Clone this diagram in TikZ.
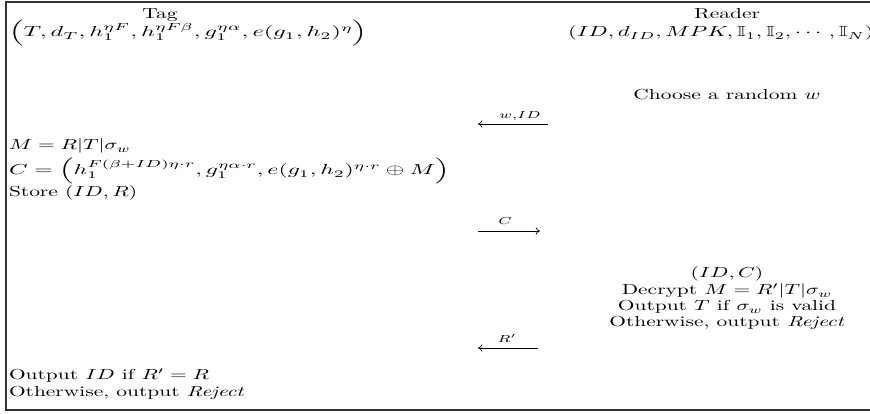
\documentclass[tikz,border=0pt]{standalone}
\usepackage{amsmath,amssymb}
\usepackage{graphicx}
\usetikzlibrary{arrows.meta}
\newcommand{\sx}[1]{\scalebox{1.48}[1]{#1}}
\newcommand{\sxm}[2]{\scalebox{#1}[1]{#2}}
\begin{document}
\begin{tikzpicture}[x=0.69pt,y=-0.69pt,
  txt/.style={inner sep=0pt,outer sep=0pt},
  lft/.style={txt,anchor=base west},
  ctr/.style={txt,anchor=base},
  msg/.style={line width=0.5pt,-{To[length=3pt,width=5pt]}},
  lbl/.style={inner sep=0pt,anchor=base}]
\useasboundingbox (0,0) rectangle (870,414);
% frame
\draw[line width=0.9pt,black!80] (880,2) -- (6,2) -- (6,410) -- (880,410);
% headers
\node[ctr] (tag) at (160,19) {\sx{Tag}};
\node[lft] (tagk) at (9,37) {\sxm{1.68}{$\Big(T, d_T, h_1^{\eta F}, h_1^{\eta F\beta}, g_1^{\eta\alpha}, e(g_1,h_2)^{\eta}\Big)$}};
\node[ctr] (rdr) at (727,19) {\sx{Reader}};
\node[lft] (rdrk) at (568,37) {\sxm{1.56}{$(ID, d_{ID}, MPK, \mathbb{I}_1, \mathbb{I}_2, \cdots, \mathbb{I}_N)$}};
% step 1
\node[ctr] (choose) at (727,100) {\sx{Choose a random $w$}};
\coordinate (a1r) at (548,124);
\coordinate (a1l) at (478,124);
\draw[msg] (a1r) -- (a1l);
\node[lbl] (l1) at (520,119) {\sx{$\scriptstyle w,ID$}};
% step 2
\node[lft] (m) at (9,150) {\sx{$M = R|T|\sigma_w$}};
\node[lft] (c) at (9,175) {\sxm{1.64}{$C = \Big(h_1^{F(\beta+ID)\eta\cdot r}, g_1^{\eta\alpha\cdot r}, e(g_1,h_2)^{\eta\cdot r}\oplus M\Big)$}};
\node[lft] (store) at (9,197) {\sx{Store $(ID,R)$}};
\coordinate (a2l) at (478,231);
\coordinate (a2r) at (540,231);
\draw[msg] (a2l) -- (a2r);
\node[lbl] (l2) at (505,225) {\sx{$\scriptstyle C$}};
% step 3
\node[ctr] (idc) at (727,278) {\sx{$(ID,C)$}};
\node[ctr] (dec) at (727,295) {\sx{Decrypt $M = R'|T|\sigma_w$}};
\node[ctr] (out) at (727,311) {\sx{Output $T$ if $\sigma_w$ is valid}};
\node[ctr] (oth) at (727,327) {\sx{Otherwise, output \textit{Reject}}};
\coordinate (a3r) at (538,348);
\coordinate (a3l) at (478,348);
\draw[msg] (a3r) -- (a3l);
\node[lbl] (l3) at (507,343) {\sx{$\scriptstyle R'$}};
% step 4
\node[lft] (outid) at (9,380) {\sx{Output $ID$ if $R' = R$}};
\node[lft] (oth2) at (9,397) {\sx{Otherwise, output \textit{Reject}}};
\end{tikzpicture}
\end{document}
